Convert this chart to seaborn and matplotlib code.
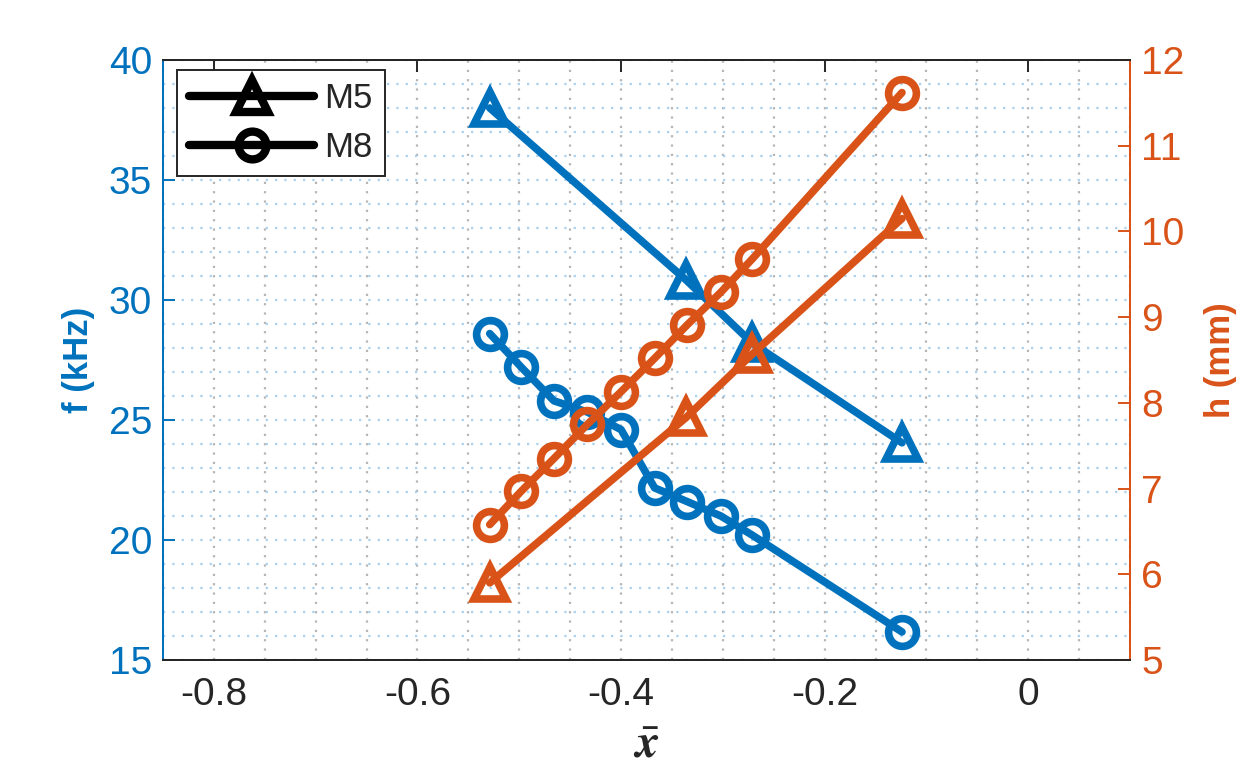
import numpy as np
import pandas as pd
import matplotlib
matplotlib.use('Agg')
import matplotlib.pyplot as plt
from matplotlib.lines import Line2D
from matplotlib.ticker import MultipleLocator
import seaborn as sns

# values
x_m5 = [-0.529, -0.336, -0.271, -0.124]
f_m5 = [38.0, 30.83, 28.2, 24.05]
h_m5 = [5.9, 7.83, 8.57, 10.15]

x_m8 = [-0.529, -0.498, -0.466, -0.433, -0.400, -0.367, -0.335, -0.302, -0.271, -0.124]
f_m8 = [28.6, 27.2, 25.8, 25.33, 24.6, 22.17, 21.6, 21.0, 20.2, 16.17]
h_m8 = [6.58, 6.97, 7.35, 7.75, 8.13, 8.52, 8.91, 9.29, 9.68, 11.62]

blue = '#0072BD'
orange = '#D95319'
dark = '#262626'

sns.set_style('white')
plt.rcParams['font.family'] = ['Liberation Sans', 'DejaVu Sans']
plt.rcParams['axes.unicode_minus'] = False
plt.rcParams['mathtext.fontset'] = 'stix'

df_m5 = pd.DataFrame({'x': x_m5, 'f': f_m5, 'h': h_m5})
df_m8 = pd.DataFrame({'x': x_m8, 'f': f_m8, 'h': h_m8})

fig = plt.figure(figsize=(12.5, 7.82), dpi=100)
ax = fig.add_axes([0.1304, 0.156, 0.7736, 0.7673])
ax2 = ax.twinx()

line_kw = dict(linewidth=5.5, markerfacecolor='none', markeredgewidth=5.5, legend=False)
tri_ms = 23
circ_ms = 20

sns.lineplot(data=df_m5, x='x', y='f', ax=ax, color=blue, marker='^',
             markersize=tri_ms, markeredgecolor=blue, **line_kw)
sns.lineplot(data=df_m8, x='x', y='f', ax=ax, color=blue, marker='o',
             markersize=circ_ms, markeredgecolor=blue, **line_kw)
sns.lineplot(data=df_m5, x='x', y='h', ax=ax2, color=orange, marker='^',
             markersize=tri_ms, markeredgecolor=orange, **line_kw)
sns.lineplot(data=df_m8, x='x', y='h', ax=ax2, color=orange, marker='o',
             markersize=circ_ms, markeredgecolor=orange, **line_kw)

# axes limits / ticks
ax.set_xlim(-0.85, 0.1)
ax.set_ylim(15, 40)
ax2.set_ylim(5, 12)
ax.xaxis.set_minor_locator(MultipleLocator(0.05))
ax.yaxis.set_major_locator(MultipleLocator(5))
ax.yaxis.set_minor_locator(MultipleLocator(1))
ax2.yaxis.set_major_locator(MultipleLocator(1))
ax.set_xticks([-0.8, -0.6, -0.4, -0.2, 0])
ax.set_xticklabels(['-0.8', '-0.6', '-0.4', '-0.2', '0'])

# grid (MATLAB style sparse dots)
ax.grid(which='both', axis='x', color='#b5b5b5', linestyle=(0, (1, 3.2)), linewidth=1.6)
ax.grid(which='both', axis='y', color='#a9d0ec', linestyle=(0, (1, 3.2)), linewidth=1.6)
ax.set_axisbelow(True)

# spines
for a in (ax, ax2):
    a.spines['top'].set_color(dark)
    a.spines['bottom'].set_color(dark)
    for s in a.spines.values():
        s.set_linewidth(1.4)
ax.spines['left'].set_color(blue)
ax2.spines['left'].set_color(blue)
ax.spines['right'].set_color(orange)
ax2.spines['right'].set_color(orange)

ax.tick_params(axis='x', which='major', direction='in', length=8.5, width=1.4,
               colors=dark, labelsize=28, pad=12, top=True)
ax.tick_params(axis='y', which='major', direction='in', length=8.5, width=1.4,
               colors=blue, labelsize=28, pad=8)
ax.tick_params(which='minor', length=0)
ax2.tick_params(axis='y', which='major', direction='in', length=8.5, width=1.4,
                colors=orange, labelsize=28, pad=8)
ax2.tick_params(which='minor', length=0)

ax.set_xlabel(r'$\bar{\mathbfit{x}}$', fontsize=34, color=dark, labelpad=8)
ax.set_ylabel('f (kHz)', fontsize=25, fontweight='bold', color=blue, labelpad=10)
ax2.set_ylabel('h (mm)', fontsize=25, fontweight='bold', color=orange, labelpad=14)

# legend in black
handles = [
    Line2D([], [], color='black', linewidth=6, marker='^', markersize=tri_ms,
           markerfacecolor='none', markeredgewidth=6),
    Line2D([], [], color='black', linewidth=6, marker='o', markersize=circ_ms,
           markerfacecolor='none', markeredgewidth=6),
]
leg = ax2.legend(handles, ['M5', 'M8'], loc='upper left',
                 bbox_to_anchor=(0.0145, 0.983), borderaxespad=0,
                 fontsize=25, handlelength=3.6, handletextpad=0.3,
                 fancybox=False, framealpha=1, edgecolor=dark,
                 borderpad=0.35, labelspacing=0.45)
leg.get_frame().set_linewidth(1.4)

fig.savefig('out.png', dpi=100)
